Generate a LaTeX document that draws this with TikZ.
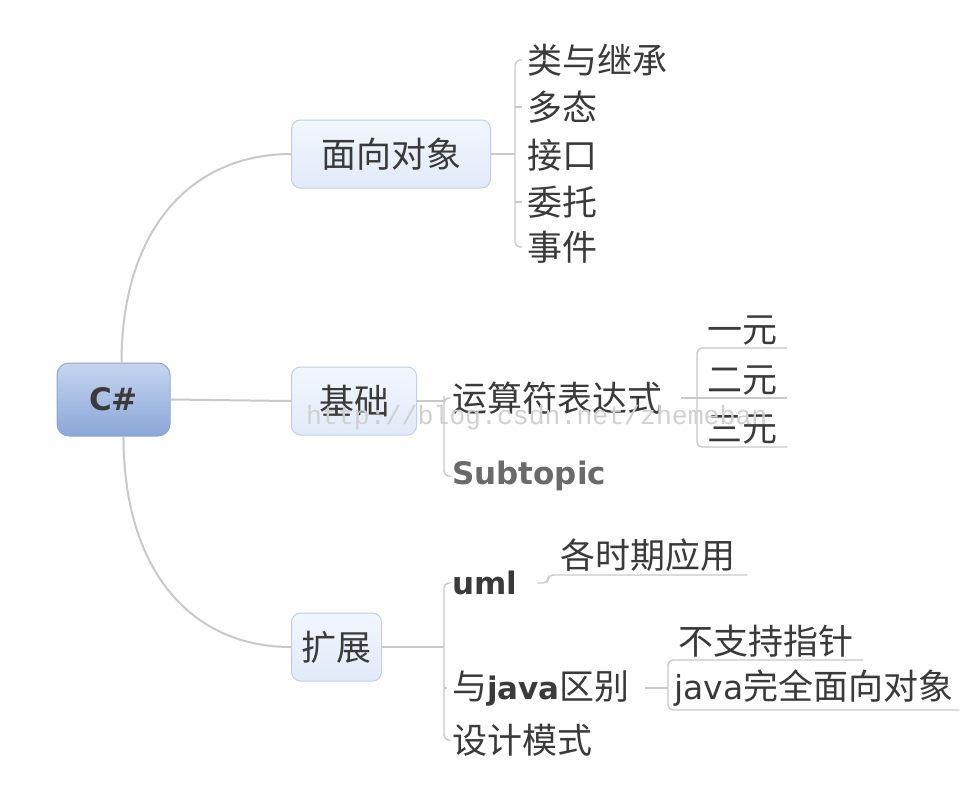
\documentclass[tikz,border=0pt]{standalone}
\usepackage{fontspec}
\setmainfont{DejaVu Sans}
\newfontfamily\cjk{Noto Sans CJK SC}
\newfontfamily\lat{DejaVu Sans}
\newfontfamily\wmfont{Liberation Mono}
\newcommand\cjkfont{\cjk\fontsize{35}{42}\selectfont}
\newcommand\latb{\lat\bfseries\fontsize{31}{38}\selectfont}
\newcommand\latr{\lat\fontsize{33}{40}\selectfont}
\definecolor{lineg}{HTML}{C9C9C9}
\definecolor{txt}{HTML}{3A3A3A}
\definecolor{subg}{HTML}{6A6A6A}
\definecolor{topb}{HTML}{C3CFE0}
\definecolor{toptop}{HTML}{F2F6FD}
\definecolor{topbot}{HTML}{E1EAF9}
\definecolor{rootb}{HTML}{8FA7CF}
\definecolor{roottop}{HTML}{C5D5EF}
\definecolor{rootbot}{HTML}{8AA7D7}
\definecolor{wmc}{HTML}{D0D0D0}
\tikzset{
  conn/.style={draw=lineg, line width=2pt},
  brk/.style={draw=lineg, line width=1.4pt, rounded corners=5pt},
  topic/.style={draw=topb, line width=1pt, rounded corners=9pt, top color=toptop, bottom color=topbot,
    minimum height=68pt, anchor=west, font=\cjkfont, text=txt},
  rootbox/.style={draw=rootb, line width=1pt, rounded corners=12pt, top color=roottop, bottom color=rootbot,
    minimum width=113pt, minimum height=73pt, font=\latb, text=txt},
  sub/.style={anchor=west, inner xsep=5pt, font=\cjkfont, text=txt},
  ul/.style={anchor=south west, inner xsep=10pt, inner ysep=3pt, font=\cjkfont, text=txt},
  wmark/.style={anchor=base west, font=\wmfont\fontsize{26.5}{30}\selectfont, text=wmc, inner sep=0pt}
}
\begin{document}
\begin{tikzpicture}[x=1pt,y=-1pt]
\useasboundingbox (0,0) rectangle (979,793);
\fill[white] (0,0) rectangle (979,793);

% root and main topics
\node[rootbox] (root) at (113.5,399.5) {C\#};
\node[topic, minimum width=199pt] (t1) at (291,154) {面向对象};
\node[topic, minimum width=125pt] (t2) at (291,401) {基础};
\node[topic, minimum width=90pt] (t3) at (291,647) {扩展};

% topic 1 children
\node[sub] (c11) at (522,60) {类与继承};
\node[sub] (c12) at (522,107) {多态};
\node[sub] (c13) at (522,155) {接口};
\node[sub] (c14) at (522,202) {委托};
\node[sub] (c15) at (522,247) {事件};

% topic 2 children
\node[sub] (e1) at (447,398) {运算符表达式};
\node[sub, font=\latb, text=subg] (e2) at (447,476) {Subtopic};
\node[ul] (g1) at (697,348) {一元};
\node[ul] (g2) at (697,398) {二元};
\node[ul] (g3) at (697,447) {三元};

% topic 3 children
\node[sub, font=\latb] (f1) at (447,583) {uml};
\node[sub] (f2) at (447,688) {与{\latb java}区别};
\node[sub] (f3) at (447,740) {设计模式};
\node[ul, inner xsep=12pt] (h1) at (548,575) {各时期应用};
\node[ul] (k1) at (668,660) {不支持指针};
\node[ul, inner xsep=6pt] (k2) at (668,710) {{\latr java}完全面向对象};

% connectors from root
\draw[conn] ([xshift=8pt]root.north) .. controls +(0,-133) and +(-100,0) .. (t1.west);
\draw[conn] (root.east) -- (t2.west);
\draw[conn] ([xshift=10pt]root.south) .. controls +(0,134) and +(-100,0) .. (t3.west);

% topic 1 bracket
\coordinate (b1) at (515,154);
\draw[conn] (t1.east) -- (b1);
\draw[brk] (c11.west) -| (b1) |- (c15.west);
\draw[brk] (c12.west) -- (c12.west -| b1);
\draw[brk] (c14.west) -- (c14.west -| b1);

% topic 2 bracket
\coordinate (b2) at (444,401);
\draw[conn] (t2.east) -- (b2);
\draw[brk] (e1.west) -| (b2) |- (e2.west);
\draw[brk] ([xshift=14pt]e1.east) -- (e1.east -| g2.south west);
\draw[brk] (g1.south east) -- (g1.south west) -- (g3.south west) -- (g3.south east);
\draw[brk] (g2.south west) -- (g2.south east);

% topic 3 bracket
\coordinate (b3) at (444,647);
\draw[conn] (t3.east) -- (b3);
\draw[brk] (f1.west) -| (b3) |- (f3.west);
\draw[brk] (f2.west) -- (f2.west -| b3);
\draw[brk] ([xshift=15pt]f1.east) -| (h1.south west) -- (h1.south east);
\draw[brk] ([xshift=10pt]f2.east) -- (f2.east -| k1.south west);
\draw[brk] (k1.south east) -- (k1.south west) -- (k2.south west) -- (k2.south east);

% watermark
\node[wmark] (wm) at (306,424) {http://blog.csdn.net/zhemeban};
\end{tikzpicture}
\end{document}
